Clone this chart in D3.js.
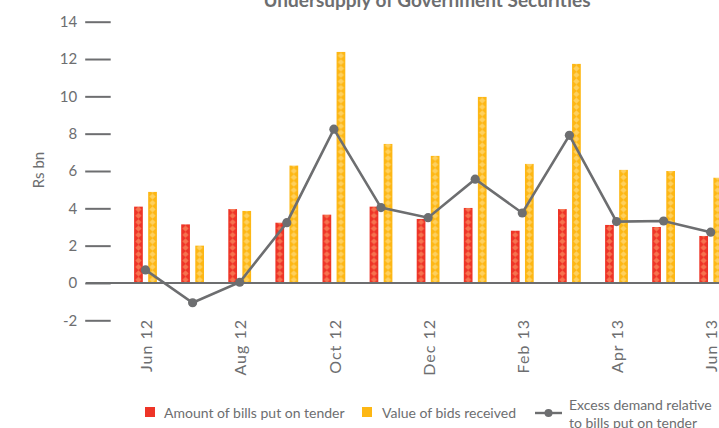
<!DOCTYPE html>
<html>
<head>
<meta charset="utf-8">
<script src="https://cdn.jsdelivr.net/npm/d3@7"></script>
<style>
  body { margin: 0; background: #fff; }
  svg { display: block; font-family: Lato, 'Open Sans', sans-serif; }
</style>
</head>
<body>
<svg id="chart" width="719" height="428"></svg>
<script>
const months = ['Jun 12', 'Jul 12', 'Aug 12', 'Sep 12', 'Oct 12', 'Nov 12', 'Dec 12',
  'Jan 13', 'Feb 13', 'Mar 13', 'Apr 13', 'May 13', 'Jun 13'];
const monthLabels = ['Jun 12', 'Aug 12', 'Oct 12', 'Dec 12', 'Feb 13', 'Apr 13', 'Jun 13'];
const billsTendered = [4.09, 3.14, 3.96, 3.23, 3.66, 4.09, 3.43, 4.02, 2.8, 3.96, 3.11, 3.0, 2.52];
const bidsReceived = [4.88, 2.0, 3.86, 6.29, 12.38, 7.45, 6.81, 9.97, 6.38, 11.74, 6.06, 6.0, 5.64];
const excessDemand = [0.7, -1.06, 0.04, 3.23, 8.24, 4.04, 3.5, 5.56, 3.75, 7.91, 3.29, 3.32, 2.72];
const yTicks = [-2, 0, 2, 4, 6, 8, 10, 12, 14];

const config = {
  width: 719,
  height: 428,
  grey: '#6d6e70',
  red: '#ee3427',
  redLight: '#f6734f',
  yellow: '#fdb714',
  yellowLight: '#fed05f',
};

const svg = d3.select('#chart');

const x = d3.scalePoint().domain(months).range([145.5, 710.7]);
const x1 = d3.scaleBand().domain(['bills', 'bids']).range([-11.4, 11.4]).paddingInner(0.38);
const y = d3.scaleLinear().domain([-2, 14]).range([320.3, 21.7]);
const step = x.step();
const barW = x1.bandwidth();

// diamond-chain fill used by the bars
const defs = svg.append('defs');
function addPattern(id, key, base, light) {
  const p = defs.append('pattern')
    .attr('id', id)
    .attr('patternUnits', 'userSpaceOnUse')
    .attr('x', x(months[0]) + x1(key))
    .attr('y', y(0))
    .attr('width', step)
    .attr('height', 6.4);
  p.append('rect').attr('width', step).attr('height', 6.4).attr('fill', base);
  const cx = barW / 2;
  p.append('path')
    .attr('d', `M${cx},0.2 L${cx + 3.1},3.2 L${cx},6.2 L${cx - 3.1},3.2 Z`)
    .attr('fill', light);
}
addPattern('pat-red', 'bills', config.red, config.redLight);
addPattern('pat-yellow', 'bids', config.yellow, config.yellowLight);

// title (clipped at the top like the source)
svg.append('text')
  .attr('x', 427)
  .attr('y', 7)
  .attr('text-anchor', 'middle')
  .attr('font-size', 19)
  .attr('font-weight', 'bold')
  .attr('fill', config.grey)
  .text('Undersupply of Government Securities');

// y axis
const yAxis = d3.axisLeft(y)
  .tickValues(yTicks)
  .tickSize(25.5)
  .tickPadding(8)
  .tickFormat(d => String(d));

const yAxisG = svg.append('g')
  .attr('transform', 'translate(110.7,0)')
  .call(yAxis);
yAxisG.select('.domain').remove();
yAxisG.selectAll('.tick line').attr('stroke', config.grey).attr('stroke-width', 2);
yAxisG.selectAll('.tick text')
  .attr('fill', config.grey)
  .attr('font-size', 15)
  .attr('font-family', 'Lato, sans-serif');

svg.append('text')
  .attr('transform', 'translate(44,170) rotate(-90)')
  .attr('text-anchor', 'middle')
  .attr('font-size', 15)
  .attr('fill', config.grey)
  .text('Rs bn');

// bars
const groups = svg.selectAll('.month')
  .data(months)
  .enter()
  .append('g')
  .attr('class', 'month');

groups.append('rect')
  .attr('x', (d) => x(d) + x1('bills'))
  .attr('y', (d, i) => y(billsTendered[i]))
  .attr('width', barW)
  .attr('height', (d, i) => y(0) - y(billsTendered[i]))
  .attr('fill', 'url(#pat-red)');

groups.append('rect')
  .attr('x', (d) => x(d) + x1('bids'))
  .attr('y', (d, i) => y(bidsReceived[i]))
  .attr('width', barW)
  .attr('height', (d, i) => y(0) - y(bidsReceived[i]))
  .attr('fill', 'url(#pat-yellow)');

// zero line
svg.append('line')
  .attr('x1', 86)
  .attr('x2', config.width)
  .attr('y1', y(0))
  .attr('y2', y(0))
  .attr('stroke', config.grey)
  .attr('stroke-width', 2.2);

// excess demand line
const line = d3.line()
  .x((d, i) => x(months[i]))
  .y(d => y(d));

svg.append('path')
  .datum(excessDemand)
  .attr('d', line)
  .attr('fill', 'none')
  .attr('stroke', config.grey)
  .attr('stroke-width', 2.6);

svg.selectAll('.dot')
  .data(excessDemand)
  .enter()
  .append('circle')
  .attr('class', 'dot')
  .attr('cx', (d, i) => x(months[i]))
  .attr('cy', d => y(d))
  .attr('r', 4.6)
  .attr('fill', config.grey);

// x labels, every second month
svg.selectAll('.x-label')
  .data(monthLabels)
  .enter()
  .append('text')
  .attr('class', 'x-label')
  .attr('transform', d => `translate(${x(d) + 1},319) rotate(-90)`)
  .attr('text-anchor', 'end')
  .attr('dy', '0.36em')
  .attr('font-size', 16)
  .attr('letter-spacing', 1)
  .attr('fill', config.grey)
  .text(d => d);

// legend
const legend = svg.append('g').attr('class', 'legend');
legend.append('rect').attr('x', 145).attr('y', 407).attr('width', 10).attr('height', 10).attr('fill', config.red);
legend.append('text').attr('x', 164).attr('y', 413).attr('dy', '0.35em')
  .attr('font-size', 14).attr('fill', config.grey).text('Amount of bills put on tender');
legend.append('rect').attr('x', 362).attr('y', 407).attr('width', 10).attr('height', 10).attr('fill', config.yellow);
legend.append('text').attr('x', 382).attr('y', 413).attr('dy', '0.35em')
  .attr('font-size', 14).attr('fill', config.grey).text('Value of bids received');
legend.append('line').attr('x1', 535).attr('x2', 562).attr('y1', 413).attr('y2', 413)
  .attr('stroke', config.grey).attr('stroke-width', 2.4);
legend.append('circle').attr('cx', 548.5).attr('cy', 413).attr('r', 4).attr('fill', config.grey);
legend.append('text').attr('x', 569).attr('y', 405).attr('dy', '0.35em')
  .attr('font-size', 14).attr('fill', config.grey).text('Excess demand relative');
legend.append('text').attr('x', 569).attr('y', 423).attr('dy', '0.35em')
  .attr('font-size', 14).attr('fill', config.grey).text('to bills put on tender');
</script>
</body>
</html>
